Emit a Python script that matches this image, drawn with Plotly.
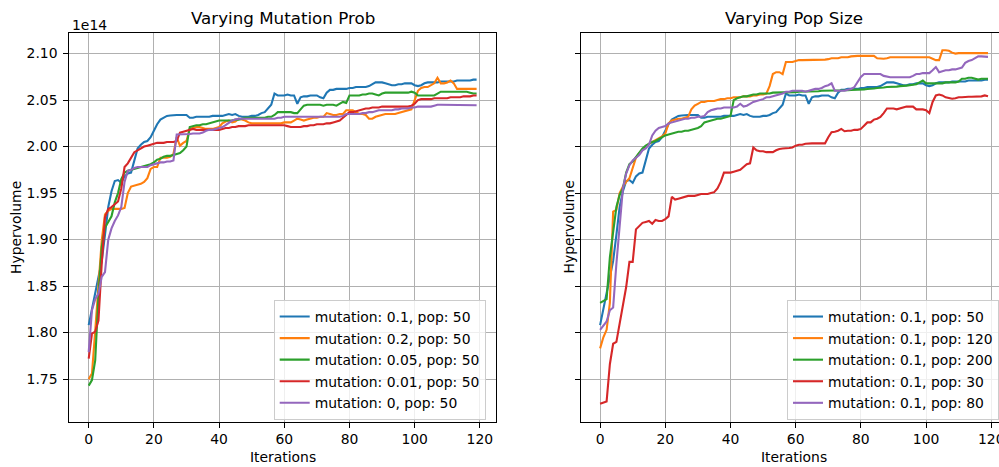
import plotly.graph_objects as go

# Hypervolume (in units of 1e14) per iteration, iterations 0..119
iterations = list(range(120))

hv_mut_0_1_pop_50 = [
    1.808, 1.826, 1.845, 1.863, 1.877, 1.905, 1.935, 1.952, 1.963, 1.964,
    1.961, 1.968, 1.971, 1.972, 1.985, 1.998, 2.002, 2.005, 2.006, 2.010,
    2.017, 2.024, 2.029, 2.031, 2.033, 2.0335, 2.034, 2.034, 2.034, 2.034,
    2.034, 2.031, 2.031, 2.032, 2.032, 2.032, 2.032, 2.032, 2.033, 2.033,
    2.033, 2.033, 2.034, 2.035, 2.034, 2.035, 2.033, 2.032, 2.032, 2.032,
    2.033, 2.033, 2.034, 2.036, 2.037, 2.041, 2.045, 2.057, 2.055, 2.055,
    2.055, 2.056, 2.055, 2.055, 2.046, 2.053, 2.054, 2.054, 2.055, 2.055,
    2.055, 2.053, 2.052, 2.058, 2.061, 2.061, 2.062, 2.062, 2.062, 2.062,
    2.063, 2.063, 2.064, 2.064, 2.064, 2.064, 2.065, 2.067, 2.069, 2.069,
    2.069, 2.068, 2.067, 2.066, 2.066, 2.067, 2.067, 2.068, 2.068, 2.068,
    2.066, 2.065, 2.066, 2.068, 2.069, 2.069, 2.069, 2.069, 2.070, 2.070,
    2.070, 2.070, 2.070, 2.071, 2.071, 2.071, 2.071, 2.071, 2.072, 2.072,
]

hv_mut_0_2_pop_50 = [
    1.750, 1.756, 1.802, 1.856, 1.899, 1.927, 1.931, 1.933, 1.933, 1.933,
    1.933, 1.934, 1.950, 1.957, 1.958, 1.959, 1.960, 1.962, 1.966, 1.976,
    1.978, 1.978, 1.988, 1.988, 1.988, 1.989, 1.992, 2.010, 2.001, 2.004,
    2.006, 2.019, 2.020, 2.021, 2.021, 2.020, 2.019, 2.019, 2.019, 2.020,
    2.021, 2.025, 2.027, 2.028, 2.026, 2.027, 2.030, 2.029, 2.028, 2.026,
    2.025, 2.025, 2.025, 2.025, 2.025, 2.025, 2.025, 2.025, 2.025, 2.025,
    2.026, 2.026, 2.026, 2.028, 2.030, 2.029, 2.028, 2.029, 2.030, 2.031,
    2.031, 2.032, 2.032, 2.036, 2.035, 2.034, 2.034, 2.035, 2.035, 2.039,
    2.039, 2.039, 2.037, 2.035, 2.035, 2.034, 2.030, 2.030, 2.032, 2.033,
    2.034, 2.035, 2.035, 2.035, 2.035, 2.036, 2.037, 2.038, 2.039, 2.040,
    2.050, 2.060, 2.063, 2.064, 2.064, 2.066, 2.068, 2.074, 2.068, 2.068,
    2.069, 2.071, 2.068, 2.062, 2.062, 2.062, 2.062, 2.062, 2.062, 2.062,
]

hv_mut_0_05_pop_50 = [
    1.743, 1.749, 1.770, 1.840, 1.892, 1.913, 1.919, 1.925, 1.940, 1.950,
    1.965, 1.972, 1.974, 1.975, 1.976, 1.977, 1.978, 1.979, 1.980, 1.981,
    1.983, 1.986, 1.987, 1.989, 1.990, 1.990, 1.991, 1.992, 1.993, 1.996,
    2.000, 2.021, 2.022, 2.023, 2.023, 2.024, 2.024, 2.025, 2.026, 2.027,
    2.028, 2.028, 2.028, 2.028, 2.028, 2.029, 2.029, 2.030, 2.031, 2.031,
    2.031, 2.031, 2.031, 2.031, 2.031, 2.032, 2.032, 2.034, 2.037, 2.037,
    2.037, 2.037, 2.037, 2.036, 2.036, 2.040, 2.044, 2.045, 2.045, 2.045,
    2.045, 2.045, 2.044, 2.045, 2.045, 2.045, 2.044, 2.046, 2.048, 2.047,
    2.055, 2.055, 2.055, 2.055, 2.056, 2.056, 2.057, 2.057, 2.056, 2.055,
    2.057, 2.058, 2.058, 2.058, 2.058, 2.058, 2.058, 2.058, 2.058, 2.059,
    2.058, 2.055, 2.055, 2.055, 2.055, 2.055, 2.055, 2.057, 2.059, 2.059,
    2.059, 2.059, 2.059, 2.059, 2.059, 2.059, 2.059, 2.058, 2.057, 2.057,
]

hv_mut_0_01_pop_50 = [
    1.772, 1.799, 1.801, 1.813, 1.874, 1.924, 1.933, 1.935, 1.938, 1.941,
    1.955, 1.978, 1.982, 1.988, 1.994, 1.996, 1.998, 2.000, 2.001, 2.002,
    2.003, 2.004, 2.004, 2.004, 2.005, 2.005, 2.005, 2.006, 2.015, 2.016,
    2.017, 2.018, 2.019, 2.018, 2.018, 2.018, 2.018, 2.018, 2.018, 2.018,
    2.018, 2.019, 2.020, 2.020, 2.021, 2.021, 2.022, 2.022, 2.022, 2.023,
    2.023, 2.023, 2.023, 2.023, 2.023, 2.023, 2.023, 2.023, 2.023, 2.023,
    2.023, 2.022, 2.021, 2.021, 2.021, 2.021, 2.022, 2.022, 2.023, 2.023,
    2.024, 2.024, 2.024, 2.025, 2.025, 2.026, 2.027, 2.028, 2.031, 2.034,
    2.037, 2.037, 2.038, 2.039, 2.040, 2.041, 2.041, 2.042, 2.042, 2.042,
    2.043, 2.043, 2.043, 2.043, 2.043, 2.043, 2.043, 2.043, 2.043, 2.044,
    2.046, 2.050, 2.051, 2.051, 2.051, 2.051, 2.052, 2.052, 2.052, 2.052,
    2.052, 2.053, 2.053, 2.053, 2.053, 2.054, 2.054, 2.054, 2.055, 2.055,
]

hv_mut_0_pop_50 = [
    1.779, 1.824, 1.836, 1.842, 1.860, 1.865, 1.900, 1.912, 1.920, 1.926,
    1.935, 1.962, 1.974, 1.975, 1.977, 1.978, 1.978, 1.978, 1.978, 1.980,
    1.981, 1.982, 1.983, 1.983, 1.984, 1.984, 1.985, 2.013, 2.013, 2.0135,
    2.0135, 2.0135, 2.014, 2.014, 2.014, 2.015, 2.017, 2.018, 2.018, 2.019,
    2.020, 2.021, 2.023, 2.026, 2.028, 2.029, 2.030, 2.030, 2.030, 2.030,
    2.030, 2.030, 2.030, 2.030, 2.030, 2.030, 2.030, 2.030, 2.031, 2.031,
    2.032, 2.032, 2.032, 2.032, 2.032, 2.032, 2.032, 2.032, 2.032, 2.032,
    2.032, 2.032, 2.032, 2.032, 2.032, 2.032, 2.032, 2.032, 2.033, 2.035,
    2.035, 2.035, 2.035, 2.035, 2.036, 2.036, 2.037, 2.037, 2.038, 2.039,
    2.039, 2.039, 2.039, 2.039, 2.040, 2.040, 2.041, 2.041, 2.041, 2.042,
    2.042, 2.043, 2.043, 2.043, 2.043, 2.043, 2.044, 2.045, 2.045, 2.045,
    2.045, 2.045, 2.045, 2.045, 2.045, 2.0445, 2.0445, 2.0445, 2.0445, 2.0445,
]

hv_mut_0_1_pop_120 = [
    1.783, 1.795, 1.803, 1.832, 1.930, 1.932, 1.950, 1.957, 1.962, 1.966,
    1.977, 1.988, 1.993, 1.997, 2.000, 2.003, 2.005, 2.007, 2.009, 2.011,
    2.014, 2.025, 2.028, 2.029, 2.030, 2.030, 2.031, 2.032, 2.040, 2.044,
    2.046, 2.048, 2.048, 2.049, 2.049, 2.049, 2.050, 2.051, 2.051, 2.052,
    2.052, 2.053, 2.053, 2.053, 2.054, 2.054, 2.054, 2.055, 2.055, 2.056,
    2.056, 2.057, 2.065, 2.078, 2.080, 2.080, 2.078, 2.091, 2.091, 2.091,
    2.092, 2.093, 2.093, 2.093, 2.0935, 2.0935, 2.0935, 2.0935, 2.0935, 2.0935,
    2.094, 2.095, 2.095, 2.095, 2.096, 2.096, 2.096, 2.097, 2.0975, 2.0975,
    2.0975, 2.0975, 2.0975, 2.0975, 2.0975, 2.095, 2.0945, 2.0945, 2.095, 2.096,
    2.096, 2.096, 2.096, 2.096, 2.096, 2.096, 2.096, 2.096, 2.096, 2.096,
    2.096, 2.096, 2.0945, 2.093, 2.093, 2.1035, 2.1035, 2.103, 2.101, 2.100,
    2.1005, 2.1005, 2.1005, 2.1005, 2.1005, 2.1005, 2.1005, 2.1005, 2.1005, 2.1005,
]

hv_mut_0_1_pop_200 = [
    1.832, 1.834, 1.836, 1.881, 1.910, 1.935, 1.948, 1.955, 1.972, 1.981,
    1.984, 1.989, 1.993, 1.998, 2.001, 2.003, 2.005, 2.006, 2.008, 2.010,
    2.012, 2.013, 2.014, 2.015, 2.016, 2.016, 2.017, 2.017, 2.018, 2.019,
    2.020, 2.022, 2.026, 2.027, 2.028, 2.029, 2.030, 2.030, 2.031, 2.032,
    2.033, 2.050, 2.052, 2.053, 2.054, 2.054, 2.055, 2.056, 2.056, 2.057,
    2.057, 2.057, 2.057, 2.058, 2.058, 2.058, 2.058, 2.058, 2.0585, 2.0585,
    2.0585, 2.059, 2.059, 2.059, 2.059, 2.0595, 2.0595, 2.0595, 2.060, 2.060,
    2.060, 2.060, 2.060, 2.0605, 2.0605, 2.0605, 2.0605, 2.061, 2.061, 2.061,
    2.061, 2.0615, 2.062, 2.062, 2.0625, 2.063, 2.063, 2.0635, 2.064, 2.064,
    2.064, 2.0645, 2.065, 2.065, 2.0655, 2.066, 2.0665, 2.067, 2.069, 2.071,
    2.068, 2.068, 2.068, 2.068, 2.068, 2.068, 2.069, 2.069, 2.069, 2.069,
    2.070, 2.073, 2.073, 2.074, 2.074, 2.073, 2.072, 2.073, 2.073, 2.073,
]

hv_mut_0_1_pop_30 = [
    1.7235, 1.725, 1.726, 1.766, 1.788, 1.790, 1.809, 1.827, 1.849, 1.876,
    1.876, 1.911, 1.914, 1.918, 1.919, 1.920, 1.917, 1.921, 1.920, 1.920,
    1.922, 1.925, 1.946, 1.943, 1.944, 1.945, 1.946, 1.947, 1.947, 1.947,
    1.948, 1.949, 1.949, 1.949, 1.950, 1.951, 1.955, 1.962, 1.972, 1.972,
    1.972, 1.973, 1.974, 1.975, 1.978, 1.981, 1.982, 1.999, 1.996, 1.995,
    1.995, 1.994, 1.994, 1.994, 1.996, 1.9975, 1.998, 1.998, 1.9985, 1.999,
    2.001, 2.002, 2.002, 2.003, 2.0035, 2.0035, 2.0035, 2.0035, 2.0035, 2.0035,
    2.010, 2.0155, 2.016, 2.017, 2.019, 2.0165, 2.017, 2.017, 2.018, 2.018,
    2.019, 2.022, 2.026, 2.026, 2.029, 2.030, 2.032, 2.036, 2.041, 2.041,
    2.041, 2.040, 2.041, 2.042, 2.043, 2.043, 2.043, 2.040, 2.040, 2.040,
    2.039, 2.036, 2.048, 2.055, 2.056, 2.055, 2.053, 2.052, 2.0515, 2.052,
    2.053, 2.053, 2.0535, 2.0535, 2.0535, 2.0535, 2.0535, 2.054, 2.055, 2.054,
]

hv_mut_0_1_pop_80 = [
    1.803, 1.808, 1.812, 1.824, 1.827, 1.874, 1.915, 1.955, 1.971, 1.980,
    1.985, 1.988, 1.991, 1.996, 1.998, 2.002, 2.012, 2.017, 2.020, 2.021,
    2.022, 2.025, 2.026, 2.027, 2.028, 2.029, 2.030, 2.030, 2.031, 2.031,
    2.032, 2.032, 2.033, 2.037, 2.039, 2.040, 2.041, 2.041, 2.042, 2.042,
    2.042, 2.042, 2.043, 2.046, 2.043, 2.044, 2.046, 2.048, 2.049, 2.050,
    2.051, 2.053, 2.053, 2.054, 2.055, 2.056, 2.057, 2.059, 2.059, 2.060,
    2.060, 2.060, 2.060, 2.059, 2.060, 2.061, 2.062, 2.062, 2.063, 2.065,
    2.066, 2.068, 2.060, 2.060, 2.060, 2.060, 2.061, 2.062, 2.064, 2.070,
    2.075, 2.078, 2.078, 2.078, 2.078, 2.078, 2.078, 2.076, 2.075, 2.0745,
    2.0745, 2.0745, 2.0745, 2.0745, 2.0745, 2.0745, 2.076, 2.078, 2.078, 2.079,
    2.079, 2.079, 2.082, 2.0855, 2.080, 2.081, 2.082, 2.082, 2.083, 2.083,
    2.084, 2.085, 2.090, 2.092, 2.093, 2.095, 2.097, 2.097, 2.0965, 2.0965,
]

mutation_series = [
    ("mutation: 0.1, pop: 50", hv_mut_0_1_pop_50),
    ("mutation: 0.2, pop: 50", hv_mut_0_2_pop_50),
    ("mutation: 0.05, pop: 50", hv_mut_0_05_pop_50),
    ("mutation: 0.01, pop: 50", hv_mut_0_01_pop_50),
    ("mutation: 0, pop: 50", hv_mut_0_pop_50),
]
pop_series = [
    ("mutation: 0.1, pop: 50", hv_mut_0_1_pop_50),
    ("mutation: 0.1, pop: 120", hv_mut_0_1_pop_120),
    ("mutation: 0.1, pop: 200", hv_mut_0_1_pop_200),
    ("mutation: 0.1, pop: 30", hv_mut_0_1_pop_30),
    ("mutation: 0.1, pop: 80", hv_mut_0_1_pop_80),
]

colors = ["#1f77b4", "#ff7f0e", "#2ca02c", "#d62728", "#9467bd"]
x_ticks = [0, 20, 40, 60, 80, 100, 120]
y_ticks = [1.75, 1.80, 1.85, 1.90, 1.95, 2.00, 2.05, 2.10]
y_tick_labels = ["1.75", "1.80", "1.85", "1.90", "1.95", "2.00", "2.05", "2.10"]

W, H = 999, 467
FONT = "DejaVu Sans"
TICK_SIZE = 13.9
TITLE_SIZE = 16.7

# axes boxes in pixels
L_X0, L_X1 = 69.3, 496.0
R_X0, R_X1 = 580.7, 1007.4
Y_TOP, Y_BOT = 33.3, 421.7


def fx(px):
    return px / W


def fy(py):
    return 1 - py / H


fig = go.Figure()

for i, (name, vals) in enumerate(mutation_series):
    fig.add_trace(go.Scatter(
        x=iterations, y=vals, mode="lines", name=name,
        line=dict(color=colors[i], width=2.1),
        xaxis="x", yaxis="y", legend="legend", legendgroup=f"m{i}",
    ))

for i, (name, vals) in enumerate(pop_series):
    fig.add_trace(go.Scatter(
        x=iterations, y=vals, mode="lines", name=name,
        line=dict(color=colors[i], width=2.1),
        xaxis="x2", yaxis="y2", legend="legend2", legendgroup=f"p{i}",
    ))

x_lo, x_hi = -5.95, 124.95
y_lo, y_hi = 1.7042, 2.1218

axis_common = dict(
    showgrid=True, gridcolor="#b0b0b0", gridwidth=0.8,
    zeroline=False, showline=True, linecolor="black", linewidth=1,
    ticks="outside", ticklen=5, tickwidth=1, tickcolor="black",
    tickfont=dict(family=FONT, size=TICK_SIZE, color="black"),
)

# the right panel runs past the page edge; show only its visible part
right_end = x_lo + (W - R_X0) / (R_X1 - R_X0) * (x_hi - x_lo)

legend_style = dict(
    xanchor="left", yanchor="top",
    bgcolor="rgba(255,255,255,0.8)", bordercolor="#cccccc", borderwidth=1,
    font=dict(family=FONT, size=TICK_SIZE, color="black"),
    tracegroupgap=0.5, traceorder="grouped",
)

fig.update_layout(
    width=W, height=H,
    margin=dict(l=0, r=0, t=0, b=0, autoexpand=False),
    paper_bgcolor="white", plot_bgcolor="white",
    font=dict(family=FONT, size=TICK_SIZE, color="black"),
    xaxis=dict(domain=[fx(L_X0), fx(L_X1)], range=[x_lo, x_hi],
               tickvals=x_ticks, mirror=True, anchor="y", **axis_common),
    yaxis=dict(domain=[fy(Y_BOT), fy(Y_TOP)], range=[y_lo, y_hi],
               tickvals=y_ticks, ticktext=y_tick_labels, mirror=True,
               anchor="x", ticklabelstandoff=3, **axis_common),
    xaxis2=dict(domain=[fx(R_X0), 1.0], range=[x_lo, right_end],
                tickvals=x_ticks, mirror=True, anchor="y2",
                ticklabeloverflow="allow", **axis_common),
    yaxis2=dict(domain=[fy(Y_BOT), fy(Y_TOP)], range=[y_lo, y_hi],
                tickvals=y_ticks, showticklabels=False, anchor="x2",
                **axis_common),
    legend=dict(x=fx(273.7), y=fy(300), **legend_style),
    legend2=dict(x=fx(787), y=fy(300), **legend_style),
    showlegend=True,
)

L_CX = (L_X0 + L_X1) / 2
R_CX = (R_X0 + R_X1) / 2
Y_CY = (Y_TOP + Y_BOT) / 2

texts = [
    ("Varying Mutation Prob", L_CX, 18.3, TITLE_SIZE, 0, "center"),
    ("Varying Pop Size", R_CX, 18.3, TITLE_SIZE, 0, "center"),
    ("Iterations", L_CX, 456.7, TICK_SIZE, 0, "center"),
    ("Iterations", R_CX, 456.7, TICK_SIZE, 0, "center"),
    ("Hypervolume", 15.5, Y_CY, TICK_SIZE, -90, "center"),
    ("Hypervolume", 568.0, Y_CY, TICK_SIZE, -90, "center"),
    ("1e14", 69.5, 25.0, TICK_SIZE, 0, "left"),
]
for txt, px, py, size, ang, xa in texts:
    fig.add_annotation(
        text=txt, x=fx(px), y=fy(py), xref="paper", yref="paper",
        xanchor=xa, yanchor="middle", showarrow=False, textangle=ang,
        font=dict(family=FONT, size=size, color="black"),
    )

fig.write_html("out.html")
